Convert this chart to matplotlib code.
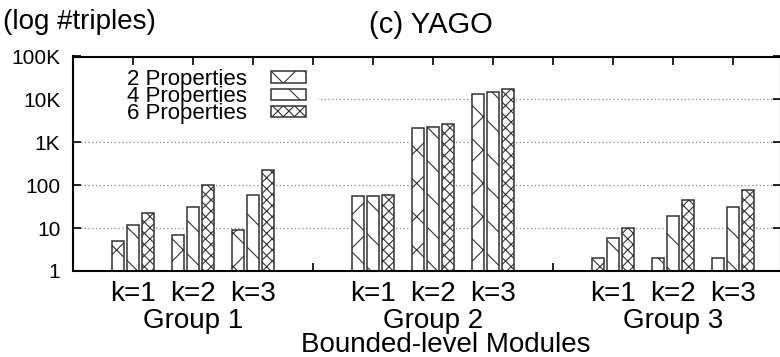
import numpy as np
from matplotlib import pyplot as plt
from matplotlib.patches import Rectangle

# values (log scale, #triples)
groups = ["Group 1", "Group 2", "Group 3"]
k_labels = ["k=1", "k=2", "k=3"]
series_names = ["2 Properties", "4 Properties", "6 Properties"]
props2 = [5, 7, 9, 55, 2200, 13600, 2, 2, 2]
props4 = [12, 31, 60, 57, 2330, 14800, 6, 19, 31]
props6 = [23, 103, 230, 59, 2650, 17500, 10, 44, 76]
y_ticks = [1, 10, 100, 1000, 10000, 100000]
y_tick_labels = ["1", "10", "100", "1K", "10K", "100K"]

plt.rcParams['font.family'] = ['Liberation Sans', 'DejaVu Sans']
plt.rcParams['hatch.linewidth'] = 0.8
plt.rcParams['hatch.color'] = '#444444'

W, H = 780, 357
fig = plt.figure(figsize=(W / 100, H / 100), dpi=100)
left, right, top, bottom = 73, 781, 56.5, 271
ax = fig.add_axes([left / W, 1 - bottom / H, (right - left) / W, (bottom - top) / H])

# x positions: groups of three clusters with one empty slot between groups
x = []
for g in range(len(groups)):
    for k in range(len(k_labels)):
        x.append(1 + g * 4 + k)
x = np.array(x, dtype=float)

bar_w = 0.208
pitch = 0.25
hatches = ['x', '\\', 'xxx']
for i, (vals, name) in enumerate(zip([props2, props4, props6], series_names)):
    ax.bar(x + (i - 1) * pitch, vals, width=bar_w, color='white',
           edgecolor='#333333', linewidth=1.1, hatch=hatches[i], label=name, zorder=2)

ax.set_yscale('log')
ax.set_ylim(1, 100000)
ax.set_xlim(0, (right - left) / 60)
ax.set_yticks(y_ticks)
ax.set_yticklabels(y_tick_labels)
ax.minorticks_off()

ax.set_xticks(np.arange(1, 12))
xt = []
for i in range(1, 12):
    xt.append(k_labels[(i - 1) % 4] if i % 4 != 0 else "")
ax.set_xticklabels(xt)

ax.tick_params(axis='both', direction='in', length=6, width=1.2, top=True, right=True)
ax.tick_params(axis='y', labelsize=15, pad=9)
ax.tick_params(axis='x', labelsize=20, pad=7)
for s in ax.spines.values():
    s.set_linewidth(1.5)

ax.set_axisbelow(True)
ax.yaxis.grid(True, linestyle=(0, (1, 2)), color='#888888', linewidth=0.9)
ax.xaxis.grid(False)

# white area behind the key, like gnuplot's key box
ax.add_patch(Rectangle((0, 1 - (125 - top) / (bottom - top)), (318 - left) / (right - left),
                       (125 - 68) / (bottom - top), transform=ax.transAxes,
                       facecolor='white', edgecolor='none', zorder=1))

leg = ax.legend(loc='upper left', bbox_to_anchor=(127 / W, 1 - 69 / H), bbox_transform=fig.transFigure,
                frameon=False, fontsize=16, markerfirst=False, handlelength=1.55, handleheight=0.4,
                handletextpad=1.1, labelspacing=-0.17, borderpad=0, borderaxespad=0)
leg.set_zorder(5)

for g, name in enumerate(groups):
    ax.text(2 + g * 4, -0.232, name, transform=ax.get_xaxis_transform(),
            ha='center', va='center', fontsize=20)

fig.text(446 / W, 1 - 345 / H, "Bounded-level Modules", ha='center', va='center', fontsize=20)
fig.text(431 / W, 1 - 25 / H, "(c) YAGO", ha='center', va='center', fontsize=21)
fig.text(3 / W, 1 - 22 / H, "(log #triples)", ha='left', va='center', fontsize=20)

fig.savefig("out.png", dpi=100)
